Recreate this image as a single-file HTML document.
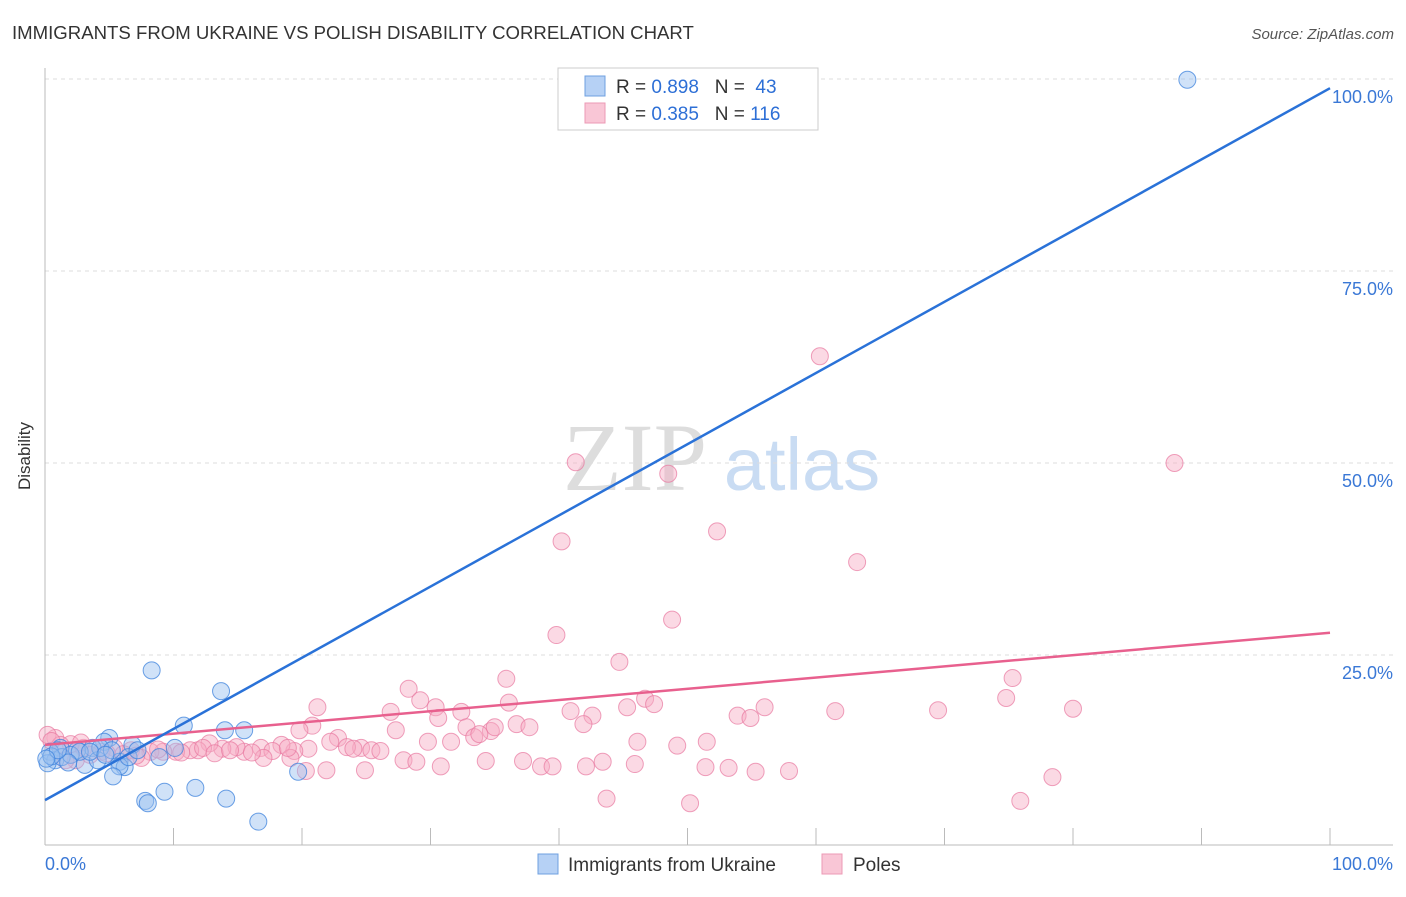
<!DOCTYPE html>
<html><head><meta charset="utf-8"><style>
body{margin:0;background:#fff;font-family:"Liberation Sans",sans-serif;}
</style></head><body>
<svg width="1406" height="892" xmlns="http://www.w3.org/2000/svg" font-family="Liberation Sans, sans-serif">
<text x="12" y="39" font-size="18.6" fill="#333">IMMIGRANTS FROM UKRAINE VS POLISH DISABILITY CORRELATION CHART</text>
<text x="1394" y="39" font-size="15" fill="#555" text-anchor="end" font-style="italic">Source: ZipAtlas.com</text>
<text x="30" y="456" font-size="17" fill="#333" text-anchor="middle" transform="rotate(-90 30 456)">Disability</text>
<g>
<text x="635" y="490" font-size="96" fill="#ddd" text-anchor="middle" font-family="Liberation Serif, serif">ZIP</text>
<text x="802" y="490" font-size="74" fill="#c9dcf3" text-anchor="middle">atlas</text>
</g>
<g id="grid"></g>
<g id="axes"></g>
<g id="marks"></g>
<g>
<rect x="558" y="68" width="260" height="62" fill="#fff" stroke="#ccc"/>
<rect x="585" y="76" width="20" height="20" fill="#b6d1f5" stroke="#6fa0e0"/>
<rect x="585" y="103" width="20" height="20" fill="#f9c6d6" stroke="#ec9ab5"/>
<text x="616" y="93" font-size="19" fill="#333" xml:space="preserve">R = <tspan fill="#2d6fd6">0.898</tspan>   N =  <tspan fill="#2d6fd6">43</tspan></text>
<text x="616" y="120" font-size="19" fill="#333" xml:space="preserve">R = <tspan fill="#2d6fd6">0.385</tspan>   N = <tspan fill="#2d6fd6">116</tspan></text>
</g>
<g>
<rect x="538" y="854" width="20" height="20" fill="#b6d1f5" stroke="#6fa0e0"/>
<text x="568" y="871" font-size="19" fill="#333">Immigrants from Ukraine</text>
<rect x="822" y="854" width="20" height="20" fill="#f9c6d6" stroke="#ec9ab5"/>
<text x="853" y="871" font-size="19" fill="#333">Poles</text>
</g>
</svg>
<script>
const yTicks=[25,50,75,100];
const yTickLabels=["25.0%","50.0%","75.0%","100.0%"];
const xLabels=["0.0%","100.0%"];
const blueX=[88.9,8.3,13.7,10.8,14,15.5,5,4.6,6.8,3.7,2.5,1.2,0.4,0.8,0.2,1.3,3.1,4.1,5.8,6.2,5.8,5.3,6.5,8.9,10.1,7.2,19.7,7.8,8,9.3,11.7,14.1,16.6,2,2.7,4.3,5.2,0.5,1.8,1,3.5,4.7,0.1];
const blueY=[99.9,23,20.3,15.8,15.2,15.2,14.2,13.7,13.3,12.9,12.6,12.9,12.4,11.3,10.9,11.7,10.7,11.3,11.1,10.4,10.5,9.2,11.7,11.7,12.9,12.6,9.8,6,5.7,7.2,7.7,6.3,3.3,12,12.4,12.9,12.6,11.8,11,12.6,12.4,12,11.5];
const pinkX=[60.3,41.3,87.9,48.5,52.3,40.2,63.2,39.8,48.8,44.7,35.9,28.3,75.3,74.8,21.2,29.2,30.4,32.4,26.9,36.1,40.9,42.6,45.3,46.7,47.4,56,53.9,54.9,61.5,69.5,80,20.8,27.3,30.6,32.8,34.7,36.7,37.7,41.9,35,19.8,22.8,22.2,33.4,33.8,51.5,49.2,46.1,31.6,29.8,24.6,23.5,25.4,26.1,24,20.5,19.4,18.4,16.8,17.7,15.5,14.9,13.8,12.8,11.9,11.3,10.2,9.2,8.2,6.7,5.4,4.4,3,2,0.8,0.2,1.2,2.4,3.5,7.5,17,19.1,20.3,21.9,24.9,27.9,28.9,30.8,34.3,37.2,38.6,39.5,42.1,43.4,45.9,51.4,53.2,55.3,57.9,78.4,43.7,50.2,75.9,1.6,0.5,2.8,4.8,6.1,8.8,10.6,12.3,13.2,14.4,16.1,18.9,7.1];
const pinkY=[63.9,50.1,50,48.6,41.1,39.8,37.1,27.6,29.6,24.1,21.9,20.6,22,19.4,18.2,19.1,18.2,17.6,17.6,18.8,17.7,17.1,18.2,19.3,18.6,18.2,17.1,16.8,17.7,17.8,18,15.8,15.2,16.8,15.6,15.1,16,15.6,16,15.6,15.2,14.2,13.7,14.3,14.7,13.7,13.2,13.7,13.7,13.7,12.9,13,12.6,12.5,12.8,12.8,12.5,13.3,12.9,12.5,12.4,13,12.8,13.5,12.6,12.6,12.4,12.4,12.4,12.6,12.9,12.4,12.9,13.4,14.2,14.6,13.3,11.3,12,11.6,11.6,11.6,9.9,10,10,11.3,11.1,10.5,11.2,11.2,10.5,10.5,10.5,11.1,10.8,10.4,10.3,9.8,9.9,9.1,6.3,5.7,6,11.3,13.8,13.6,12.2,12.1,12.7,12.3,12.9,12.2,12.6,12.3,12.9,11.9];
const blueLine=[6.1,98.8];
const pinkLine=[13.3,27.9];
const NS="http://www.w3.org/2000/svg";
const X0=45,X1=1330,Y0=847,Y1=79;
function sx(v){return X0+(X1-X0)*v/100;}
function sy(v){return Y0-(Y0-Y1)*v/100;}
function mk(tag,a,parent){const e=document.createElementNS(NS,tag);for(const k in a)e.setAttribute(k,a[k]);parent.appendChild(e);return e;}
const grid=document.getElementById('grid'),axes=document.getElementById('axes'),marks=document.getElementById('marks');
yTicks.forEach((t,i)=>{
  const l=mk('line',{x1:45,x2:1393,y1:sy(t),y2:sy(t),stroke:'#ddd','stroke-dasharray':'4,4'},grid);
  
  
  const tx=mk('text',{x:1393,y:sy(t)+24,'font-size':18,fill:'#3a78d6','text-anchor':'end'},axes);
  tx.textContent=yTickLabels[i];
  
  
});
let a=mk('line',{x1:45,x2:45,y1:68,y2:845,stroke:'#bbb'},axes);


a=mk('line',{x1:45,x2:1393,y1:845,y2:845,stroke:'#bbb'},axes);


for(let k=1;k<=10;k++){
  const t=mk('line',{x1:45+128.5*k,x2:45+128.5*k,y1:828,y2:845,stroke:'#bbb'},axes);
  
  
}
[[45,'start',0],[1393,'end',1]].forEach(([x,an,i])=>{
  const tx=mk('text',{x:x,y:870,'font-size':18,fill:'#3a78d6','text-anchor':an},axes);
  tx.textContent=xLabels[i];
  
  
});
pinkX.forEach((x,i)=>{
  const c=mk('circle',{cx:sx(x),cy:sy(pinkY[i]),r:8.5,fill:'rgba(246,170,196,0.45)',stroke:'rgba(232,120,160,0.7)','stroke-width':1},marks);
  
  
});
blueX.forEach((x,i)=>{
  const c=mk('circle',{cx:sx(x),cy:sy(blueY[i]),r:8.5,fill:'rgba(150,190,240,0.45)',stroke:'rgba(60,130,220,0.75)','stroke-width':1},marks);
  
  
});
let ln=mk('line',{x1:sx(0),y1:sy(pinkLine[0]),x2:sx(100),y2:sy(pinkLine[1]),stroke:'#e8608e','stroke-width':2.5},marks);


ln=mk('line',{x1:sx(0),y1:sy(blueLine[0]),x2:sx(100),y2:sy(blueLine[1]),stroke:'#2a72d8','stroke-width':2.5},marks);


</script>
</body></html>
